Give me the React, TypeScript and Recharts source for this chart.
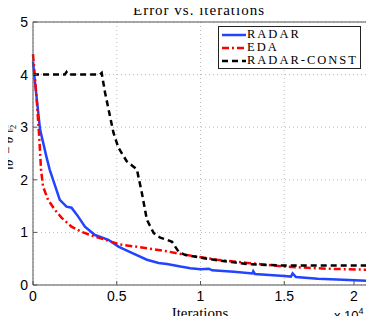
import { LineChart, Line, XAxis, YAxis, CartesianGrid, Legend } from "recharts"

const xTicks = [0, 5000, 10000, 15000, 20000]
const yTicks = [0, 1, 2, 3, 4, 5]

const radarIter = [0, 120, 420, 800, 1000, 1200, 1600, 2000, 2300, 2700, 3100, 3700, 4500, 5100, 5900, 6800, 7500, 8000, 8800, 9400, 10000, 10500, 10700, 12000, 13100, 13150, 13250, 15000, 15400, 15500, 15700, 17000, 18500, 20000]
const radarErr = [4.25, 3.85, 2.96, 2.44, 2.19, 2.0, 1.62, 1.49, 1.47, 1.3, 1.11, 0.95, 0.86, 0.73, 0.61, 0.48, 0.42, 0.4, 0.35, 0.32, 0.3, 0.31, 0.28, 0.25, 0.22, 0.26, 0.21, 0.17, 0.16, 0.22, 0.15, 0.12, 0.1, 0.08]

const edaIter = [0, 100, 220, 380, 480, 600, 900, 1300, 1700, 2300, 2900, 3700, 4500, 5200, 6800, 8000, 9000, 10000, 11000, 12800, 15000, 17500, 20000]
const edaErr = [4.39, 4.0, 3.53, 2.77, 2.19, 1.87, 1.62, 1.43, 1.28, 1.11, 1.01, 0.92, 0.84, 0.77, 0.7, 0.64, 0.58, 0.53, 0.48, 0.42, 0.35, 0.31, 0.29]

const constIter = [0, 1900, 2000, 2100, 4000, 4100, 4300, 4800, 5100, 5600, 6000, 6200, 6500, 6800, 7200, 7600, 8000, 8300, 8700, 9100, 10000, 11000, 12000, 12800, 14000, 15000, 17500, 20000]
const constErr = [4.0, 4.0, 4.05, 4.0, 4.0, 4.03, 3.66, 2.9, 2.61, 2.35, 2.25, 2.2, 1.75, 1.24, 0.99, 0.9, 0.86, 0.82, 0.63, 0.57, 0.52, 0.47, 0.43, 0.4, 0.38, 0.37, 0.37, 0.37]

const zip = (xs: number[], ys: number[]) => xs.map((x, i) => ({ x, y: ys[i] }))

const series = [
  { name: "RADAR", data: zip(radarIter, radarErr), color: "#2244ff", dash: undefined, width: 2.5 },
  { name: "EDA", data: zip(edaIter, edaErr), color: "#ff0000", dash: "7 3 2 3", width: 2.5 },
  { name: "RADAR-CONST", data: zip(constIter, constErr), color: "#000000", dash: "6 4", width: 2.5 },
]

const axisColor = "#555555"
const serif = "'Liberation Serif', 'DejaVu Serif', serif"
const sans = "'Liberation Sans', Arial, sans-serif"

const YTick = (props: any) => {
  const { x, y, payload } = props
  return (
    <g>
      <line x1={x + 5} x2={x + 9} y1={y} y2={y} stroke={axisColor} />
      <text x={x} y={y} dy="0.36em" textAnchor="end" style={{ fontSize: 14, fontFamily: sans }} fill="#000">
        {payload.value}
      </text>
    </g>
  )
}

const XTick = (props: any) => {
  const { x, y, payload } = props
  return (
    <g>
      <line x1={x} x2={x} y1={y - 7} y2={y - 11} stroke={axisColor} />
      <text x={x} y={y} dy="0.66em" textAnchor="middle" style={{ fontSize: 14, fontFamily: sans }} fill="#000">
        {payload.value / 10000}
      </text>
    </g>
  )
}

const NoLabel = () => <g />

const LegendBox = () => (
  <div
    style={{
      border: "1px solid #222",
      background: "#fff",
      padding: "1px 2px 1px 3px",
      fontFamily: serif,
      fontSize: 12.5,
      letterSpacing: 2,
      lineHeight: "13px",
      color: "#000",
    }}
  >
    {series.map((s) => (
      <div key={s.name} style={{ display: "flex", alignItems: "center", height: 13 }}>
        <svg width={24} height={8} style={{ marginRight: 1 }}>
          <line x1={0} x2={24} y1={4} y2={4} stroke={s.color} strokeWidth={2.5} strokeDasharray={s.dash} />
        </svg>
        <span>{s.name}</span>
      </div>
    ))}
  </div>
)

export default function App() {
  return (
    <div style={{ position: "relative", width: 374, height: 324, margin: -8, background: "#fff" }}>
      <LineChart width={374} height={324} margin={{ top: 22, right: 6, bottom: 38, left: 32 }}>
        <CartesianGrid stroke="#bbbbbb" strokeDasharray="1 3" />
        <XAxis
          dataKey="x"
          type="number"
          domain={[0, 20000]}
          ticks={xTicks}
          height={1}
          stroke={axisColor}
          tickLine={false}
          tickSize={0}
          tickMargin={7}
          tick={<XTick />}
        />
        <XAxis
          xAxisId="top"
          dataKey="x"
          type="number"
          orientation="top"
          domain={[0, 20000]}
          ticks={xTicks}
          height={1}
          mirror
          tickSize={4}
          stroke={axisColor}
          tick={<NoLabel />}
        />
        <YAxis
          type="number"
          domain={[0, 5]}
          ticks={yTicks}
          width={1}
          stroke={axisColor}
          tickLine={false}
          tickSize={0}
          tickMargin={5}
          tick={<YTick />}
        />
        <YAxis
          yAxisId="right"
          type="number"
          orientation="right"
          domain={[0, 5]}
          ticks={yTicks}
          width={1}
          mirror
          tickSize={4}
          stroke={axisColor}
          tick={<NoLabel />}
        />
        <Legend
          layout="horizontal"
          verticalAlign="middle"
          align="center"
          content={<LegendBox />}
          wrapperStyle={{ left: 218, top: 26, width: "auto", height: "auto" }}
        />
        {series.map((s) => (
          <Line
            key={s.name}
            name={s.name}
            data={s.data}
            dataKey="y"
            type="linear"
            stroke={s.color}
            strokeWidth={s.width}
            strokeDasharray={s.dash}
            dot={false}
            activeDot={false}
            isAnimationActive={false}
          />
        ))}
      </LineChart>
      <svg width={374} height={324} style={{ position: "absolute", left: 0, top: 0, pointerEvents: "none" }}>
        <text x={199} y={15} textAnchor="middle" style={{ fontFamily: serif, fontSize: 15, letterSpacing: 1 }} fill="#000">
          Error vs. iterations
        </text>
        <text x={200} y={318} textAnchor="middle" style={{ fontFamily: serif, fontSize: 15 }} fill="#000">
          Iterations
        </text>
        <text x={334} y={320} style={{ fontFamily: sans, fontSize: 13 }} fill="#000">
          x 10
          <tspan dy={-6} style={{ fontSize: 9 }}>4</tspan>
        </text>
        <text transform="translate(13,147) rotate(-90)" textAnchor="middle" style={{ fontFamily: serif, fontSize: 13 }} fill="#000">
          ‖<tspan fontStyle="italic">θ</tspan>
          <tspan dy={-5} style={{ fontSize: 9 }} fontStyle="italic">t</tspan>
          <tspan dy={5}> − </tspan>
          <tspan fontStyle="italic">θ</tspan>
          <tspan dy={-5} style={{ fontSize: 9 }}>*</tspan>
          <tspan dy={5}>‖</tspan>
          <tspan dy={-5} style={{ fontSize: 9 }}>2</tspan>
          <tspan dx={-5} dy={8} style={{ fontSize: 9 }}>2</tspan>
        </text>
      </svg>
    </div>
  )
}
